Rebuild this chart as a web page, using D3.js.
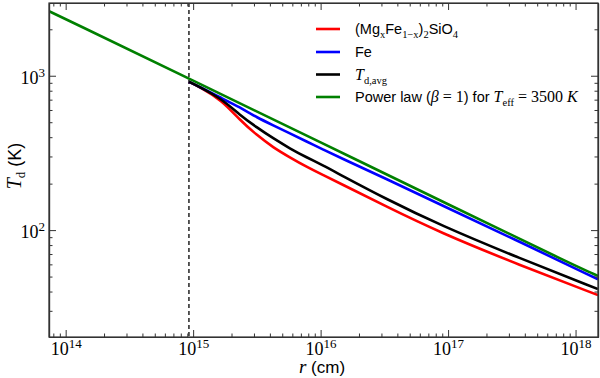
<!DOCTYPE html>
<html>
<head>
<meta charset="utf-8">
<script src="https://cdn.jsdelivr.net/npm/d3@7"></script>
<style>
  body { margin: 0; background: #fff; }
  svg { display: block; }
</style>
</head>
<body>
<div id="chart"></div>
<script>
// values (r in cm, T in K)
const radiusDust = [9.27e14, 1.13e15, 1.67e15, 2.33e15, 3.15e15, 4.25e15, 5.74e15, 7.76e15, 1.05e16, 1.42e16, 3.22e16, 8.6e16, 3.65e17, 1.5e18];
const tempSilicate = [914, 845, 696, 516, 413, 343, 296, 257, 227, 201, 143, 96.6, 59.3, 37.9];
const tempIron = [914, 845, 717, 624, 538, 477, 423, 375, 332, 295, 216, 147, 84, 48];
const tempAvg = [914, 845, 709, 556, 463, 393, 338, 296, 262, 229, 160, 108, 65.6, 41.5];
const radiusPower = [7.4e13, 1e14, 1e15, 1e16, 1e17, 1e18, 1.5e18];
const tempPower = [2620, 2330, 930, 370, 147, 58.6, 50.5];
const innerRadius = 9.27e14;

const xMajor = [1e14, 1e15, 1e16, 1e17, 1e18];
const yMajor = [1e2, 1e3];

const W = 600, H = 378;
const margin = { left: 49, right: 2, top: 3, bottom: 41 };

const svg = d3.select("#chart").append("svg")
  .attr("width", W)
  .attr("height", H);

const x = d3.scaleLog().domain([7.4e13, 1.5e18]).range([margin.left, W - margin.right]);
const y = d3.scaleLog().domain([20.3, 2960]).range([H - margin.bottom, margin.top]);

// minor ticks: 2..9 times each decade, inside the domain
const minorTicks = function (scale) {
  const d = scale.domain();
  const out = [];
  for (let e = Math.floor(Math.log10(d[0])); e <= Math.ceil(Math.log10(d[1])); e++) {
    for (let m = 2; m <= 9; m++) {
      const v = m * Math.pow(10, e);
      if (v >= d[0] && v <= d[1]) out.push(v);
    }
  }
  return out;
};

svg.append("clipPath").attr("id", "clip")
  .append("rect")
  .attr("x", margin.left).attr("y", margin.top)
  .attr("width", W - margin.left - margin.right)
  .attr("height", H - margin.top - margin.bottom);

const plot = svg.append("g").attr("clip-path", "url(#clip)");

// inner radius marker
plot.append("line")
  .attr("x1", x(innerRadius)).attr("x2", x(innerRadius))
  .attr("y1", margin.top).attr("y2", H - margin.bottom)
  .attr("stroke", "#000")
  .attr("stroke-width", 1.3)
  .attr("stroke-dasharray", "4,3");

const line = d3.line()
  .x(d => x(d[0]))
  .y(d => y(d[1]))
  .curve(d3.curveBasis);

const series = [
  { r: radiusDust, t: tempSilicate, color: "#ff0000" },
  { r: radiusDust, t: tempIron, color: "#0000ff" },
  { r: radiusDust, t: tempAvg, color: "#000000" },
  { r: radiusPower, t: tempPower, color: "#008000" }
];

series.forEach(s => {
  plot.append("path")
    .datum(s.r.map((r, i) => [r, s.t[i]]))
    .attr("fill", "none")
    .attr("stroke", s.color)
    .attr("stroke-width", 2.6)
    .attr("stroke-linejoin", "round")
    .attr("d", line);
});

// axes, ticks pointing inward on all four sides
const addSup = function (sel, anchor) {
  sel.selectAll(".tick text").each(function (d) {
    const t = d3.select(this);
    t.text(null)
      .attr("text-anchor", anchor)
      .attr("font-family", "'Liberation Serif', serif")
      .attr("font-size", 18)
      .attr("fill", "#000");
    t.append("tspan").text("10");
    t.append("tspan").attr("dy", -7).attr("font-size", 13).text(Math.round(Math.log10(d)));
  });
};

const axBottom = svg.append("g").attr("transform", `translate(0,${H - margin.bottom})`);
axBottom.call(d3.axisBottom(x).tickValues(xMajor).tickSize(-7).tickSizeOuter(0));
addSup(axBottom, "middle");
axBottom.selectAll(".tick text").attr("y", 18).attr("dy", 0);
svg.append("g").attr("transform", `translate(0,${H - margin.bottom})`)
  .call(d3.axisBottom(x).tickValues(minorTicks(x)).tickSize(-3.5).tickFormat("").tickSizeOuter(0));

svg.append("g").attr("transform", `translate(0,${margin.top})`)
  .call(d3.axisTop(x).tickValues(xMajor).tickSize(-7).tickFormat("").tickSizeOuter(0));
svg.append("g").attr("transform", `translate(0,${margin.top})`)
  .call(d3.axisTop(x).tickValues(minorTicks(x)).tickSize(-3.5).tickFormat("").tickSizeOuter(0));

const axLeft = svg.append("g").attr("transform", `translate(${margin.left},0)`);
axLeft.call(d3.axisLeft(y).tickValues(yMajor).tickSize(-7).tickSizeOuter(0));
addSup(axLeft, "end");
axLeft.selectAll(".tick text").attr("x", -4).attr("dy", 7.6);
svg.append("g").attr("transform", `translate(${margin.left},0)`)
  .call(d3.axisLeft(y).tickValues(minorTicks(y)).tickSize(-3.5).tickFormat("").tickSizeOuter(0));

svg.append("g").attr("transform", `translate(${W - margin.right},0)`)
  .call(d3.axisRight(y).tickValues(yMajor).tickSize(-7).tickFormat("").tickSizeOuter(0));
svg.append("g").attr("transform", `translate(${W - margin.right},0)`)
  .call(d3.axisRight(y).tickValues(minorTicks(y)).tickSize(-3.5).tickFormat("").tickSizeOuter(0));

svg.selectAll(".domain").attr("stroke", "#333").attr("stroke-width", 1.2);
svg.selectAll(".tick line").attr("stroke", "#333").attr("stroke-width", 1);

// frame
svg.append("rect")
  .attr("x", margin.left).attr("y", margin.top)
  .attr("width", W - margin.left - margin.right)
  .attr("height", H - margin.top - margin.bottom)
  .attr("fill", "none")
  .attr("stroke", "#333")
  .attr("stroke-width", 1.2);

// axis labels
const serif = "'Liberation Serif', serif";
const sans = "'Liberation Sans', Arial, sans-serif";

const xl = svg.append("text")
  .attr("x", 322).attr("y", 373)
  .attr("text-anchor", "middle")
  .attr("font-size", 17);
xl.append("tspan").attr("font-family", serif).attr("font-style", "italic").attr("font-size", 19).text("r");
xl.append("tspan").attr("font-family", sans).text(" (cm)");

const yl = svg.append("text")
  .attr("transform", "translate(21,166) rotate(-90)")
  .attr("text-anchor", "middle")
  .attr("font-size", 18);
yl.append("tspan").attr("font-family", serif).attr("font-style", "italic").attr("font-size", 20).text("T");
yl.append("tspan").attr("font-family", serif).attr("font-size", 13).attr("dy", 4).text("d");
yl.append("tspan").attr("font-family", sans).attr("dy", -4).text(" (K)");

// legend
const legendRows = [
  { color: "#ff0000", parts: [["(Mg", sans, 0], ["x", serif, 1], ["Fe", sans, 0], ["1\u2212x", serif, 1], [")", sans, 0], ["2", serif, 1], ["SiO", sans, 0], ["4", serif, 1]] },
  { color: "#0000ff", parts: [["Fe", sans, 0]] },
  { color: "#000000", parts: [["T", serif, 2], ["d,avg", serif, 1]] },
  { color: "#008000", parts: [["Power law (", sans, 0], ["\u03b2", serif, 2], [" = 1", serif, 0], [")", sans, 0], [" for ", sans, 0], ["T", serif, 2], ["eff", serif, 1], [" = 3500 ", serif, 0], ["K", serif, 2]] }
];
const rowY = [29, 52, 74.5, 97];

legendRows.forEach((row, i) => {
  const ly = rowY[i];
  svg.append("line")
    .attr("x1", 316).attr("x2", 340)
    .attr("y1", ly).attr("y2", ly)
    .attr("stroke", row.color)
    .attr("stroke-width", 2.6);
  const t = svg.append("text")
    .attr("x", 355).attr("y", ly + 5)
    .attr("font-size", 14.5);
  let shift = 0;
  row.parts.forEach(p => {
    const ts = t.append("tspan").attr("font-family", p[1]).text(p[0]);
    const want = p[2] === 1 ? 4 : 0;
    if (want !== shift) { ts.attr("dy", want - shift); shift = want; }
    if (p[2] === 1) ts.attr("font-size", 10.5);
    if (p[2] === 2) ts.attr("font-style", "italic").attr("font-size", 16);
    if (p[1] === serif && p[2] === 0) ts.attr("font-size", 16);
  });
});
</script>
</body>
</html>
